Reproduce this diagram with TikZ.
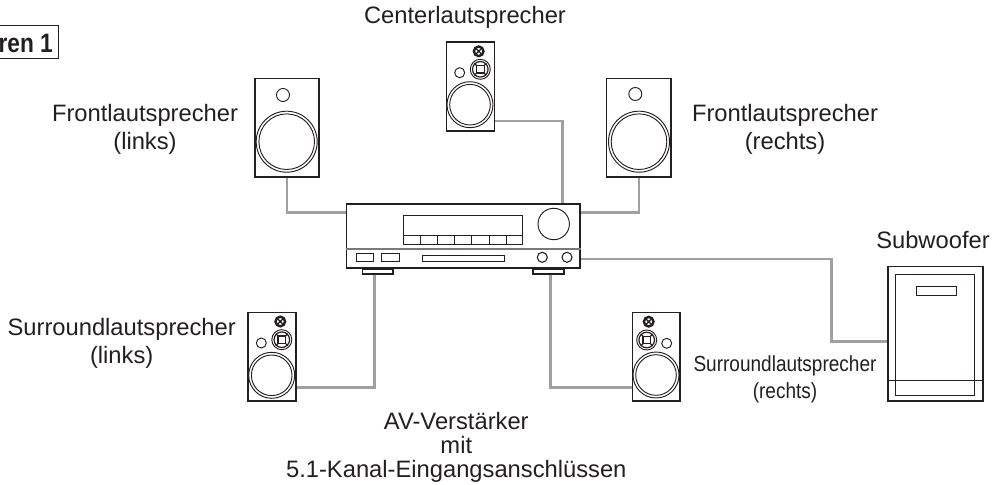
\documentclass[tikz,border=0pt]{standalone}
\usepackage{fontspec}
\setmainfont{Liberation Sans}
\usetikzlibrary{backgrounds}
\definecolor{wire}{HTML}{A0A0A0}
\definecolor{ink}{HTML}{231F20}
\tikzset{
  lbl/.style={anchor=base,inner sep=0pt,text=ink,font=\fontsize{17.8pt}{20pt}\selectfont},
  lblsmall/.style={anchor=base,inner sep=0pt,text=ink,font=\fontsize{16.4pt}{18pt}\selectfont},
  boxnode/.style 2 args={draw=ink,line width=1.3pt,inner sep=0pt,minimum width=#1*0.75pt-1.3pt,minimum height=#2*0.75pt-1.3pt},
  thin part/.style={draw=ink,line width=0.75pt},
  cable/.style={draw=wire,line width=2pt,line join=miter},
}
\newcommand{\woofer}[3]{% x y r
  \draw[ink,line width=0.7pt] (#1,#2) circle[radius=#3];
  \draw[ink,line width=0.7pt] (#1,#2) circle[radius=#3-2.7];
}
\newcommand{\midtweet}[2]{% mid-range driver with cross
  \draw[ink,line width=0.7pt] (#1,#2) circle[radius=10];
  \draw[ink,line width=0.9pt] (#1,#2) circle[radius=7.8];
  \draw[ink,line width=0.9pt] (#1-3.8,#2-3.8) rectangle (#1+3.8,#2+3.8);
  \draw[ink,line width=0.9pt] (#1-6,#2-6) -- (#1-3.8,#2-3.8) (#1+6,#2-6) -- (#1+3.8,#2-3.8)
     (#1-6,#2+6) -- (#1-3.8,#2+3.8) (#1+6,#2+6) -- (#1+3.8,#2+3.8);
}
\newcommand{\toptweet}[2]{% small dark tweeter
  \draw[ink,line width=1.8pt] (#1,#2) circle[radius=4.8];
  \draw[ink,line width=0.9pt] (#1-3,#2-3) -- (#1+3,#2+3) (#1+3,#2-3) -- (#1-3,#2+3);
  \fill[ink] (#1,#2) circle[radius=1.4];
}
\begin{document}
\begin{tikzpicture}[x=0.75pt,y=-0.75pt]
\useasboundingbox (0,0) rectangle (996,485);
% ---- label box at top left
\draw[ink,line width=0.8pt] (0,25.5) -- (58.5,25.5) -- (58.5,58.5) -- (0,58.5);
\node[anchor=base east,inner sep=0pt,text=ink,xscale=0.85,font=\fontsize{20pt}{22pt}\selectfont\bfseries] (tag) at (53,52.5) {ren 1};
% ---- front left
\node[boxnode={66.3}{100.3}] (fl) at (287,127.8) {};
\draw[ink,line width=0.7pt] (283,95) circle[radius=6.5];
\woofer{286.7}{141.7}{30.5}
% ---- front right
\node[boxnode={66}{100}] (fr) at (638.7,127.7) {};
\draw[ink,line width=0.7pt] (635.3,94) circle[radius=6.5];
\woofer{639}{141.7}{30.5}
% ---- centre
\node[boxnode={49.6}{90.7}] (c) at (470.5,86.3) {};
\toptweet{478.7}{51.3}
\midtweet{480.3}{69.3}
\draw[ink,line width=0.7pt] (459.7,72.7) circle[radius=5];
\woofer{470}{104.7}{23}
% ---- surround left
\node[boxnode={49.4}{90}] (sl) at (272,356.7) {};
\toptweet{280.3}{321.5}
\midtweet{281.8}{339.7}
\draw[ink,line width=0.7pt] (261.3,343) circle[radius=5];
\woofer{271.7}{375.3}{23}
% ---- surround right
\node[boxnode={49.3}{90}] (sr) at (656.3,356.7) {};
\toptweet{648.7}{321.7}
\midtweet{646.7}{340}
\draw[ink,line width=0.7pt] (666.7,343.3) circle[radius=5];
\woofer{656}{375}{23}
% ---- subwoofer
\node[boxnode={97}{136}] (sw) at (935.5,333.7) {};
\draw[thin part] (895.7,274.3) rectangle (974.3,395);
\draw[thin part] (sw.west |- 0,380.7) -- (sw.east |- 0,380.7);
\draw[thin part] (916.7,286) rectangle (956,295);
% ---- amplifier
\node[boxnode={235}{65.4}] (amp) at (463.2,236) {};
\draw[draw=ink!60,line width=0.8pt] (amp.west |- 0,249) -- (amp.east |- 0,249);
\draw[thin part] (403.3,215) rectangle (522.7,244);
\draw[ink,line width=1.4pt] (403.3,235.5) -- (522.7,235.5);
\foreach \bx in {420,437.3,454.3,471.7,489,506} {\draw[thin part] (\bx,235.5) -- (\bx,244);}
\draw[ink,line width=0.7pt] (553.7,224) circle[radius=15.7];
\draw[thin part] (356.7,253) rectangle (373.7,261);
\draw[thin part] (381.7,253) rectangle (399,261);
\draw[thin part] (422.7,255.3) rectangle (504.7,261.3);
\draw[ink,line width=0.8pt] (542.3,257.3) circle[radius=5];
\draw[ink,line width=0.8pt] (567,257.3) circle[radius=5];
\node[boxnode={32.3}{7}] (footl) at (377.8,271.5) {};
\node[boxnode={32.7}{7}] (footr) at (548.7,271.5) {};
% ---- connection points
\coordinate (ampfl) at (amp.west |- 0,212.3);
\coordinate (ampfr) at (amp.east |- 0,212.3);
\coordinate (ampc) at (562.3,203.3);
\coordinate (ampsw) at (amp.east |- 0,259);
\coordinate (swin) at (sw.west |- 0,341.7);
\coordinate (cout) at (c.east |- 0,121);
\coordinate (flout) at (fl.south);
\coordinate (frout) at (639,177.7);
\coordinate (footlo) at (374.3,275);
\coordinate (footro) at (550.3,275);
\coordinate (slin) at (sl.east |- 0,387.5);
\coordinate (srin) at (sr.west |- 0,387.5);
\begin{scope}[on background layer]
\draw[cable] (flout) |- (ampfl);
\draw[cable] (frout) |- (ampfr);
\draw[cable] (cout) -| (ampc);
\draw[cable] (ampsw) -| (831.7,341.7) -- (swin);
\draw[cable] (footlo) |- (slin);
\draw[cable] (footro) |- (srin);
\end{scope}
% ---- labels
\node[lbl] (tc) at (465,23.3) {Centerlautsprecher};
\node[lbl] (tfl1) at (145,122) {Frontlautsprecher};
\node[lbl] (tfl2) at (145,149.7) {(links)};
\node[lbl] (tfr1) at (785,122) {Frontlautsprecher};
\node[lbl] (tfr2) at (785,149.7) {(rechts)};
\node[lbl] (tsw) at (933,248.3) {Subwoofer};
\node[lbl] (tsl1) at (121.7,335.7) {Surroundlautsprecher};
\node[lbl] (tsl2) at (121.7,363.3) {(links)};
\node[lblsmall,xscale=0.87] (tsr1) at (785,371.7) {Surroundlautsprecher};
\node[lblsmall,xscale=0.87] (tsr2) at (785,398.3) {(rechts)};
\node[lbl] (tav1) at (456.3,429) {AV-Verstärker};
\node[lbl] (tav2) at (456.3,453.3) {mit};
\node[lbl] (tav3) at (456.3,477.3) {5.1-Kanal-Eingangsanschlüssen};
\end{tikzpicture}
\end{document}
